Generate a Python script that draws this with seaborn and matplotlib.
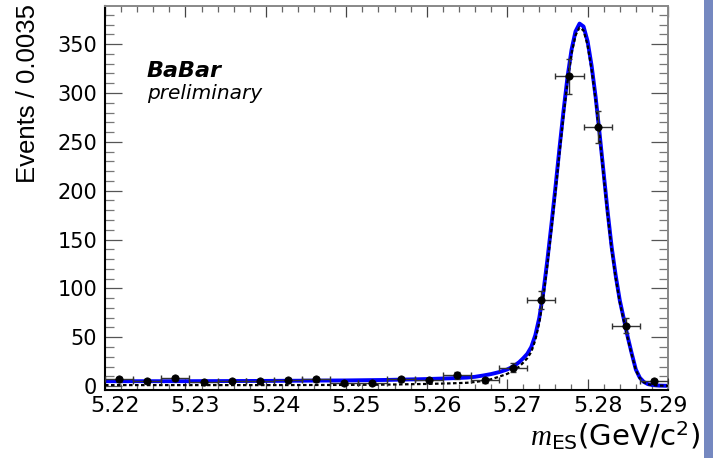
import matplotlib
matplotlib.use("Agg")
import matplotlib.pyplot as plt
import matplotlib.transforms as mtransforms
from matplotlib.ticker import MultipleLocator, FixedLocator
from matplotlib.patches import Rectangle
import seaborn as sns

# ---------------- data ----------------
bin_centers = [5.22175, 5.22525, 5.22875, 5.23225, 5.23575, 5.23925, 5.24275,
               5.24625, 5.24975, 5.25325, 5.25675, 5.26025, 5.26375, 5.26725,
               5.27075, 5.27425, 5.27775, 5.28125, 5.28475, 5.28825]
events = [7, 5, 8, 4, 5, 5, 6, 7, 3, 3, 7, 6, 11, 6, 19, 88, 317, 265, 62, 5]
event_err = [2.6, 2.2, 2.8, 2.0, 2.2, 2.2, 2.4, 2.6, 1.7, 1.7, 2.6, 2.4, 3.3,
             2.4, 4.4, 9.4, 17.8, 16.3, 7.9, 2.2]
bin_half_width = [0.00175] * len(bin_centers)

curve_x = [5.2200, 5.2300, 5.2400, 5.2500, 5.2550, 5.2600, 5.2630, 5.2650,
           5.2660, 5.2670, 5.2680, 5.2690, 5.2700, 5.2705, 5.2710, 5.2715,
           5.2720, 5.2725, 5.2730, 5.2735, 5.2740, 5.2745, 5.2750, 5.2755,
           5.2760, 5.2765, 5.2770, 5.2775, 5.2780, 5.2785, 5.2790, 5.2795,
           5.2800, 5.2805, 5.2810, 5.2815, 5.2820, 5.2825, 5.2830, 5.2835,
           5.2840, 5.2845, 5.2850, 5.2855, 5.2860, 5.2865, 5.2870, 5.2875,
           5.2880, 5.2885, 5.2890, 5.2900]
total_fit = [5.0, 5.0, 5.3, 5.8, 6.3, 7.2, 8.0, 8.7,
             9.5, 10.8, 12.3, 14.3, 17.0, 19.0, 21.5, 24.5,
             28.5, 33.0, 40.0, 52.0, 70.0, 96.0, 129.0, 165.0,
             203.0, 243.0, 281.0, 316.0, 344.0, 363.0, 371.0, 368.0,
             353.0, 328.0, 296.0, 258.0, 218.0, 178.0, 142.0, 113.0,
             88.0, 69.0, 50.0, 33.0, 17.0, 8.5, 4.2, 2.0,
             1.2, 0.8, 0.5, 0.3]
peaking_fit = [1.0, 1.0, 1.0, 1.2, 1.5, 2.2, 2.8, 3.4,
               4.2, 5.4, 7.0, 9.6, 12.5, 14.5, 17.0, 20.0,
               24.0, 28.5, 35.0, 47.0, 65.0, 91.0, 124.0, 160.0,
               198.0, 238.0, 276.0, 311.0, 340.0, 359.0, 367.0, 364.0,
               349.0, 324.0, 293.0, 255.0, 215.0, 175.0, 139.0, 110.5,
               86.0, 67.0, 48.5, 32.0, 16.3, 8.0, 4.0, 1.9,
               1.1, 0.7, 0.5, 0.3]

x_ticks = [5.22, 5.23, 5.24, 5.25, 5.26, 5.27, 5.28, 5.29]
x_tick_labels = ["5.22", "5.23", "5.24", "5.25", "5.26", "5.27", "5.28", "5.29"]

# ---------------- style ----------------
sns.set_style("ticks")
plt.rcParams["font.family"] = ["DejaVu Sans"]
plt.rcParams["mathtext.fontset"] = "custom"
plt.rcParams["mathtext.rm"] = "DejaVu Sans"
plt.rcParams["mathtext.it"] = "Liberation Serif:italic"
plt.rcParams["mathtext.bf"] = "DejaVu Sans:bold"
plt.rcParams["text.color"] = "black"
plt.rcParams["xtick.labelcolor"] = "black"
plt.rcParams["ytick.labelcolor"] = "black"

W, H = 713, 458
fig = plt.figure(figsize=(W / 100, H / 100), dpi=100)
fig.patch.set_facecolor("white")
L, R, T, B = 105, 668, 6, 390
ax = fig.add_axes([L / W, 1 - B / H, (R - L) / W, (B - T) / H])
ax.set_facecolor("white")

# fit curves
sns.lineplot(x=curve_x, y=total_fit, ax=ax, color="#0000ff", linewidth=2.8,
             zorder=2, estimator=None, sort=False)
sns.lineplot(x=curve_x, y=peaking_fit, ax=ax, color="black", linewidth=1.6,
             linestyle=(0, (1.6, 1.1)), zorder=3, estimator=None, sort=False)

# data points
ax.errorbar(bin_centers, events, xerr=bin_half_width, yerr=event_err,
            fmt="none", ecolor="#333333", elinewidth=1.0, capsize=2.5,
            capthick=1.0, zorder=4)
sns.scatterplot(x=bin_centers, y=events, ax=ax, color="black", s=28,
                edgecolor="black", linewidth=0.5, zorder=5)

ax.set_xlim(5.22, 5.29)
ax.set_ylim(-4, 389)

ax.xaxis.set_major_locator(FixedLocator(x_ticks))
ax.set_xticklabels(x_tick_labels)
ax.xaxis.set_minor_locator(MultipleLocator(0.002))
ax.yaxis.set_major_locator(MultipleLocator(50))
ax.yaxis.set_minor_locator(MultipleLocator(10))

ax.tick_params(axis="y", which="major", direction="in", length=12, width=0.9,
               color="#555555", left=True, right=True, labelsize=15, pad=5.5,
               labelcolor="black")
ax.tick_params(axis="y", which="minor", direction="in", length=6.5, width=0.9,
               color="#777777", left=True, right=True)
ax.tick_params(axis="x", which="major", direction="in", length=8, width=0.9,
               color="#444444", top=True, bottom=True, labelsize=16, pad=4,
               labelcolor="black")
ax.tick_params(axis="x", which="minor", direction="in", length=4.3, width=0.9,
               color="#666666", top=True, bottom=True)

for side in ["left", "bottom"]:
    ax.spines[side].set_color("black")
    ax.spines[side].set_linewidth(1.5)
for side in ["top", "right"]:
    ax.spines[side].set_color("#888888")
    ax.spines[side].set_linewidth(1.4)
    ax.spines[side].set_visible(True)

# slight label offsets like the reference
for i, lbl in enumerate(ax.get_xticklabels()):
    dx = 10 if i < len(x_ticks) - 1 else -5
    lbl.set_transform(lbl.get_transform() +
                      mtransforms.ScaledTranslation(dx / 100, 0, fig.dpi_scale_trans))

ax.set_xlabel("")
ax.set_ylabel("")

# axis titles
fig.text(28 / W, 1 - 4 / H, "Events / 0.0035", rotation=90, ha="center",
         va="top", fontsize=18.5, family=["Liberation Sans"], color="black")
fig.text(700 / W, 1 - 446 / H, r"$m_{\mathrm{ES}}$(GeV/c$^{\mathrm{2}}$)",
         ha="right", va="baseline", fontsize=21, color="black")

# BaBar labels
fig.text(147 / W, 1 - 61 / H, "BaBar", fontsize=16, fontweight="bold",
         fontstyle="italic", ha="left", va="top", color="black")
fig.text(147 / W, 1 - 84 / H, "preliminary", fontsize=14.5,
         fontstyle="italic", ha="left", va="top", color="black")

# slide edge stripe on the right
fig.add_artist(Rectangle((704 / W, 0), 9 / W, 1, transform=fig.transFigure,
                         facecolor="#7588c0", edgecolor="none", zorder=0))

fig.savefig("out.png", dpi=100, facecolor="white")
